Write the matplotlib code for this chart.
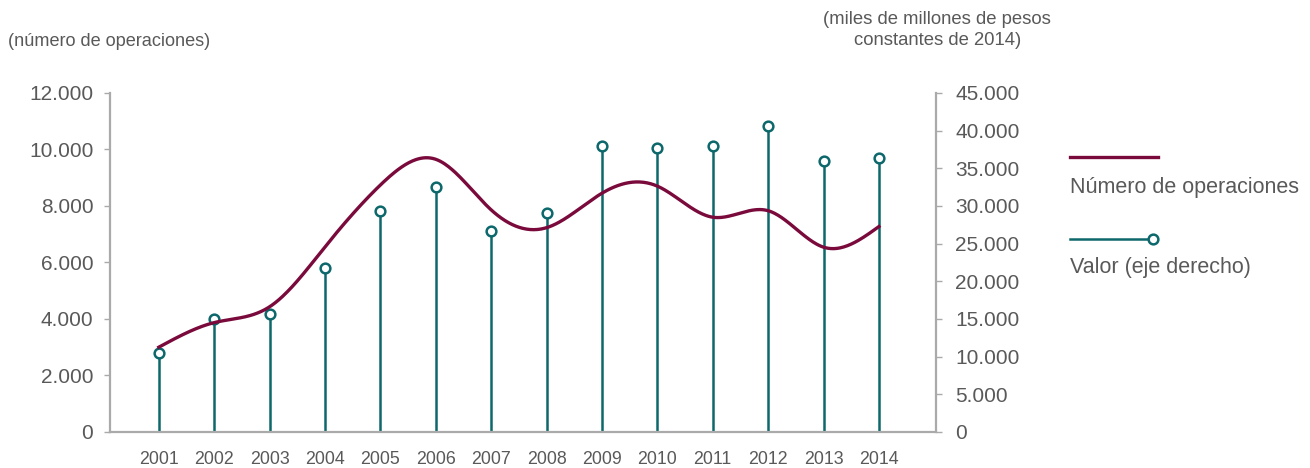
import numpy as np
import matplotlib
matplotlib.use("Agg")
import matplotlib.pyplot as plt
from matplotlib.lines import Line2D

# Data
years = [2001, 2002, 2003, 2004, 2005, 2006, 2007, 2008, 2009, 2010, 2011, 2012, 2013, 2014]
operaciones = [3000, 3870, 4430, 6550, 8740, 9650, 7860, 7230, 8450, 8700, 7600, 7830, 6540, 7270]
valor = [10500, 15000, 15600, 21800, 29300, 32500, 26700, 29100, 38000, 37700, 38000, 40600, 36000, 36400]

y_left_ticks = [0, 2000, 4000, 6000, 8000, 10000, 12000]
y_right_ticks = [0, 5000, 10000, 15000, 20000, 25000, 30000, 35000, 40000, 45000]

RED = "#7a0a3b"
TEAL = "#0d686c"
TXT = "#595959"
GRID = "#aaaaaa"

plt.rcParams["font.family"] = ["Liberation Sans", "DejaVu Sans"]


def natural_spline(x, y, n=600):
    # natural cubic spline, only used to smooth the line between yearly points
    x = np.asarray(x, float)
    y = np.asarray(y, float)
    k = len(x)
    h = np.diff(x)
    A = np.zeros((k, k))
    b = np.zeros(k)
    A[0, 0] = A[-1, -1] = 1.0
    for i in range(1, k - 1):
        A[i, i - 1] = h[i - 1]
        A[i, i] = 2 * (h[i - 1] + h[i])
        A[i, i + 1] = h[i]
        b[i] = 3 * ((y[i + 1] - y[i]) / h[i] - (y[i] - y[i - 1]) / h[i - 1])
    c = np.linalg.solve(A, b)
    xs = np.linspace(x[0], x[-1], n)
    idx = np.clip(np.searchsorted(x, xs) - 1, 0, k - 2)
    dx = xs - x[idx]
    hi = h[idx]
    bb = (y[idx + 1] - y[idx]) / hi - hi * (2 * c[idx] + c[idx + 1]) / 3
    dd = (c[idx + 1] - c[idx]) / (3 * hi)
    ys = y[idx] + bb * dx + c[idx] * dx ** 2 + dd * dx ** 3
    return xs, ys


def fmt(v):
    return f"{v:,.0f}".replace(",", ".")


fig = plt.figure(figsize=(13.1, 4.68), dpi=100)
ax = fig.add_axes([0.084, 0.077, 0.6305, 0.7245])
ax2 = ax.twinx()

# stems on the right axis
ax2.vlines(years, 0, valor, color=TEAL, linewidth=1.8, zorder=2)
ax2.plot(years, valor, linestyle="none", marker="o", markersize=7,
         markerfacecolor="white", markeredgecolor=TEAL, markeredgewidth=1.8, zorder=5)

xs, ys = natural_spline(years, operaciones)
ax.plot(xs, ys, color=RED, linewidth=2.4, zorder=3)
ax.set_zorder(ax2.get_zorder() + 1)
ax.patch.set_visible(False)

ax.set_xlim(2000.12, 2015.03)
ax.set_ylim(0, 12000)
ax2.set_ylim(0, 45000)

ax.set_xticks(years)
ax.set_xticklabels([str(y) for y in years])
ax.set_yticks(y_left_ticks)
ax.set_yticklabels([fmt(v) for v in y_left_ticks])
ax2.set_yticks(y_right_ticks)
ax2.set_yticklabels([fmt(v) for v in y_right_ticks])

for a in (ax, ax2):
    for s in a.spines.values():
        s.set_visible(False)
ax.spines["left"].set_visible(True)
ax.spines["bottom"].set_visible(True)
ax2.spines["right"].set_visible(True)
for s in (ax.spines["left"], ax.spines["bottom"], ax2.spines["right"]):
    s.set_color(GRID)
    s.set_linewidth(1.6)

ax.tick_params(axis="x", length=0, pad=14, labelsize=12.8, labelcolor=TXT)
ax.tick_params(axis="y", length=4, width=1, color=GRID, pad=8, labelsize=15, labelcolor=TXT)
ax2.tick_params(axis="y", length=4, width=1, color=GRID, pad=10, labelsize=15, labelcolor=TXT)

fig.text(0.006, 0.912, "(número de operaciones)", fontsize=13.1, color=TXT, va="center", ha="left")
fig.text(0.7155, 0.935, "(miles de millones de pesos\nconstantes de 2014)", fontsize=13.3,
         color=TXT, va="center", ha="center", linespacing=1.3)

# legend drawn by hand: line above its label
fig.add_artist(Line2D([1070 / 1310, 1158 / 1310], [1 - 157 / 468] * 2, color=RED, linewidth=2.4))
fig.text(1070 / 1310, 1 - 187 / 468, "Número de operaciones", fontsize=15.5, color=TXT, va="center", ha="left")
fig.add_artist(Line2D([1070 / 1310, 1153 / 1310], [1 - 239 / 468] * 2, color=TEAL, linewidth=1.8))
fig.add_artist(Line2D([1153 / 1310], [1 - 239 / 468], linestyle="none", marker="o", markersize=7,
                      markerfacecolor="white", markeredgecolor=TEAL, markeredgewidth=1.8))
fig.text(1070 / 1310, 1 - 267 / 468, "Valor (eje derecho)", fontsize=15.5, color=TXT, va="center", ha="left")

fig.savefig("out.png", dpi=100)
